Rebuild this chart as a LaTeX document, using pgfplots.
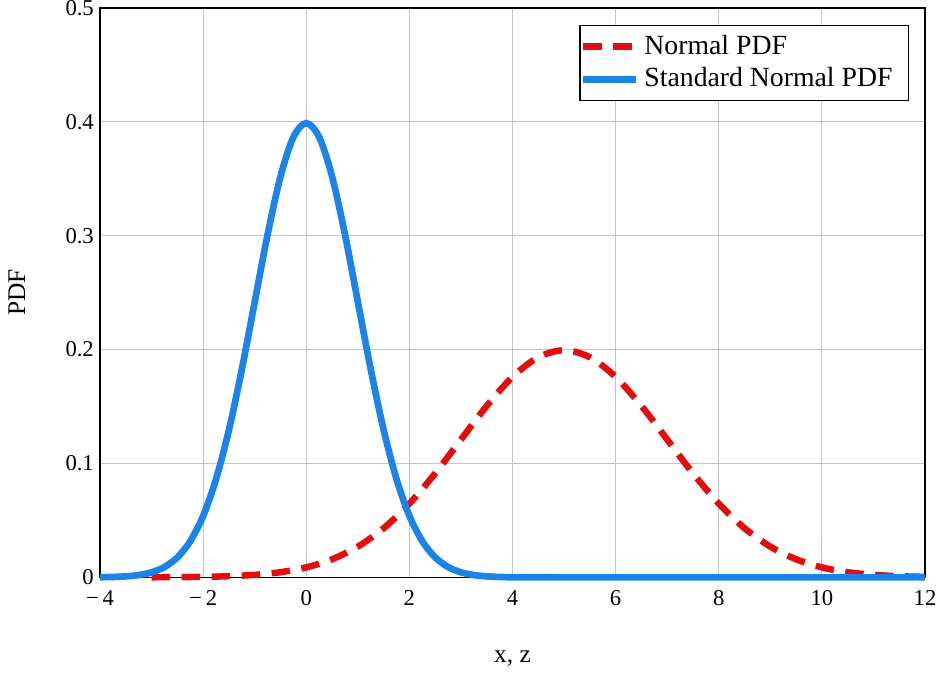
\documentclass[12pt,border=0pt]{standalone}
\usepackage{fontspec}
\setmainfont{Liberation Serif}
\usepackage{pgfplots}
\pgfplotsset{compat=1.18}
\definecolor{myred}{RGB}{228,12,12}
\definecolor{myblue}{RGB}{28,132,232}
\definecolor{mygrid}{RGB}{196,196,196}
\begin{document}
\begin{tikzpicture}
\begin{axis}[
  scale only axis,
  width=357pt, height=246.4pt,
  xmin=-4, xmax=12, ymin=0, ymax=0.5,
  xtick={-4,-2,0,2,4,6,8,10,12},
  xticklabels={−\,4,−\,2,0,2,4,6,8,10,12},
  ytick={0,0.1,0.2,0.3,0.4,0.5},
  yticklabels={0,0.1,0.2,0.3,0.4,0.5},
  major tick length=0pt,
  tick label style={font=\fontsize{9.8}{11}\selectfont},
  xticklabel style={yshift=-1.5pt},
  yticklabel style={xshift=1.5pt},
  grid=major,
  major grid style={mygrid, line width=0.45pt},
  axis line style={black, line width=0.6pt},
  xlabel={x, z}, ylabel={PDF},
  label style={font=\fontsize{11}{13}\selectfont},
  xlabel style={at={(axis description cs:0.5,-0.142)}, anchor=center},
  ylabel style={at={(axis description cs:-0.101,0.5)}, anchor=center, rotate=0},
  clip=false,
  legend style={at={(axis description cs:0.981,0.970)}, anchor=north east,
    draw=black, line width=0.6pt, font=\fontsize{12}{14}\selectfont,
    inner xsep=0pt, inner ysep=2pt, row sep=0pt,
    cells={anchor=west}},
  legend image code/.code={\draw[#1] (0pt,0pt) -- (23pt,0pt);},
  legend cell align=left,
]
\addplot[myred, line width=2.8pt, dash pattern=on 8pt off 5pt, smooth] coordinates {
(-3,0.0000669) (-2.5,0.000176) (-2,0.000436) (-1.5,0.001015) (-1,0.002216)
(-0.5,0.004548) (0,0.008764) (0.5,0.015876) (1,0.026995) (1.5,0.04314)
(2,0.064759) (2.5,0.091324) (3,0.120985) (3.5,0.150569) (4,0.176033)
(4.5,0.193334) (5,0.199471) (5.5,0.193334) (6,0.176033) (6.5,0.150569)
(7,0.120985) (7.5,0.091324) (8,0.064759) (8.5,0.04314) (9,0.026995)
(9.5,0.015876) (10,0.008764) (10.5,0.004548) (11,0.002216) (11.5,0.001015)
(12,0.000436)
};
\addlegendentry{Normal PDF\hspace*{5pt}}
\addplot[myblue, line width=2.9pt, smooth] coordinates {
(-4,0.000134) (-3.75,0.000353) (-3.5,0.000873) (-3.25,0.002029) (-3,0.004432)
(-2.75,0.009094) (-2.5,0.017528) (-2.25,0.031753) (-2,0.053991) (-1.75,0.086277)
(-1.5,0.129518) (-1.25,0.182649) (-1,0.241971) (-0.75,0.301137) (-0.5,0.352065)
(-0.25,0.386668) (0,0.398942) (0.25,0.386668) (0.5,0.352065) (0.75,0.301137)
(1,0.241971) (1.25,0.182649) (1.5,0.129518) (1.75,0.086277) (2,0.053991)
(2.25,0.031753) (2.5,0.017528) (2.75,0.009094) (3,0.004432) (3.25,0.002029)
(3.5,0.000873) (3.75,0.000353) (4,0.000134) (5,0) (6,0) (7,0) (8,0) (9,0)
(10,0) (11,0) (12,0)
};
\addlegendentry{Standard Normal PDF\hspace*{5pt}}
\end{axis}
\pgfresetboundingbox
\path[use as bounding box] ([shift={(-43.3pt,-41.1pt)}]current axis.south west) rectangle ([shift={(8.66pt,3.46pt)}]current axis.north east);
\end{tikzpicture}
\end{document}
